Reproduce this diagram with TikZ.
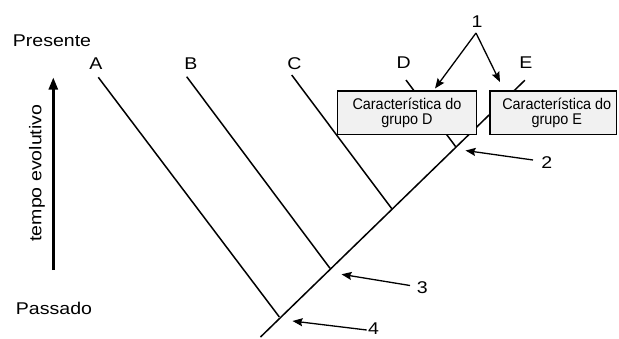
\documentclass[tikz,border=0pt]{standalone}
\usepackage{fontspec}
\setmainfont{Liberation Sans}
\newfontfamily\labf[FakeStretch=1.15]{Liberation Sans}
\newfontfamily\boxf[FakeStretch=0.93]{Liberation Sans}
\usetikzlibrary{arrows.meta}
\begin{document}
\begin{tikzpicture}[x=1pt,y=-1pt,
  branch/.style={line width=1.5pt},
  lab/.style={font=\labf\fontsize{17}{20}\selectfont, anchor=base, inner sep=0pt},
  charbox/.style={draw=black, line width=1.4pt, fill=gray!11, inner sep=0pt,
    minimum height=43.3pt, align=center,
    font=\boxf\fontsize{15.5}{14.4}\selectfont},
  ptr/.style={line width=1.3pt, -{Stealth[length=10pt,width=8pt,inset=1.5pt]}}]
\useasboundingbox (0,0) rectangle (619,338);
% trunk and junctions
\coordinate (bot) at (260.5,337);
\coordinate (j4) at (279.3,316.9);
\coordinate (j3) at (330,268.3);
\coordinate (jC) at (391.7,208.6);
\coordinate (jD) at (455.7,146.7);
\coordinate (tE) at (524.9,80.2);
\coordinate (tA) at (98.3,77.3);
\coordinate (tB) at (186.7,76.7);
\coordinate (tC) at (291.7,75);
\coordinate (tD) at (406,80);
\draw[branch] (bot) -- (tE);
\draw[branch] (tA) -- (j4);
\draw[branch] (tB) -- (j3);
\draw[branch] (tC) -- (jC);
\draw[branch] (tD) -- (jD);
% boxes
\node[charbox, minimum width=139.4pt] (boxD) at (407,112.7) {Característica do\\grupo D};
\node[charbox, minimum width=126.5pt] (boxE) at (553.3,112.7) {\hspace*{7pt}Característica do\\\hspace*{7pt}grupo E};
% labels
\node[lab] (pres) at (52,46.7) {Presente};
\node[lab] (pass) at (54,314.3) {Passado};
\node[lab] (lA) at (96,69.3) {A};
\node[lab] (lB) at (191,69.3) {B};
\node[lab] (lC) at (294.5,69.3) {C};
\node[lab] (lD) at (403.7,68.3) {D};
\node[lab] (lE) at (526,68.3) {E};
\node[lab] (n1) at (477,27) {1};
\node[lab] (n2) at (546.7,168.3) {2};
\node[lab] (n3) at (422.3,293.3) {3};
\node[lab] (n4) at (373.5,334.5) {4};
\node[lab, rotate=90] (tempo) at (41.5,173) {tempo evolutivo};
% time arrow
\coordinate (ta0) at (53.3,270);
\coordinate (ta1) at (53.3,77.5);
\draw[line width=2.4pt, -{Triangle[length=12pt,width=9pt]}] (ta0) -- (ta1);
% pointers
\coordinate (p1) at (476,33);
\coordinate (h1a) at (435,88.5);
\coordinate (h1b) at (500,82);
\draw[ptr] (p1) -- (h1a);
\draw[ptr] (p1) -- (h1b);
\coordinate (p2) at (533,160);
\coordinate (h2) at (465.5,150.5);
\draw[ptr] (p2) -- (h2);
\coordinate (p3) at (410,285.5);
\coordinate (h3) at (341.5,274.3);
\draw[ptr] (p3) -- (h3);
\coordinate (p4) at (366.7,330);
\coordinate (h4) at (292.5,321);
\draw[ptr] (p4) -- (h4);
\end{tikzpicture}
\end{document}
